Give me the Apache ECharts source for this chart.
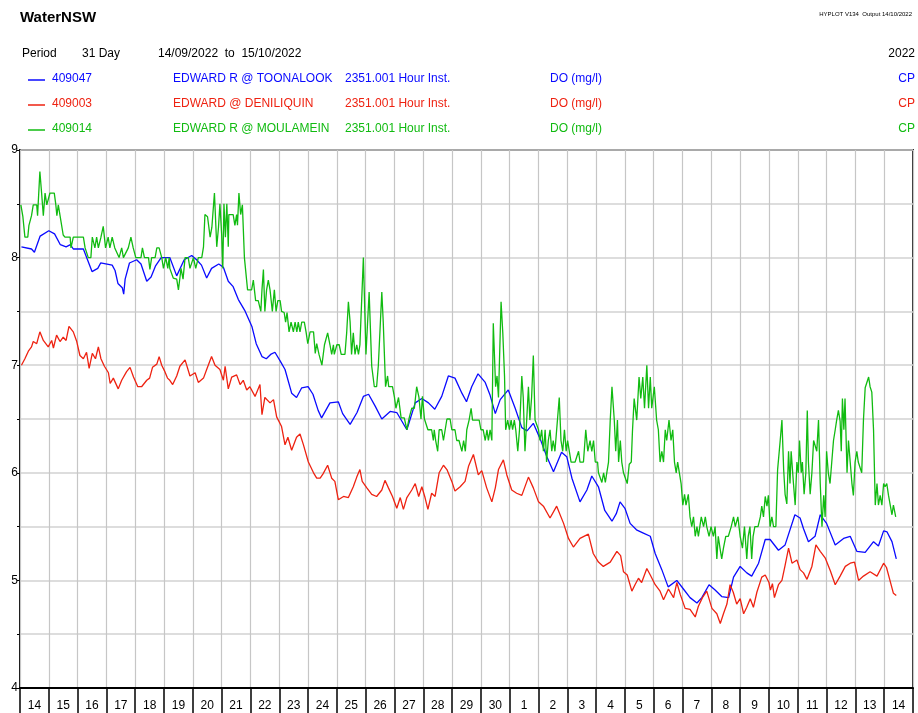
<!DOCTYPE html>
<html>
<head>
<meta charset="utf-8">
<title>WaterNSW DO</title>
<script src="https://cdn.jsdelivr.net/npm/echarts@6/dist/echarts.min.js"></script>
<style>
  html, body { margin: 0; padding: 0; background: #fff; }
  #chart { width: 918px; height: 713px; }
</style>
</head>
<body>
<div id="chart"></div>
<script>
// day labels along the bottom (14 Sep .. 14 Oct)
const dayLabels = ['14','15','16','17','18','19','20','21','22','23','24','25','26','27','28','29','30',
  '1','2','3','4','5','6','7','8','9','10','11','12','13','14'];

const yTicks = ['4', '5', '6', '7', '8', '9'];

// [days since 14/09/2022 00:00, DO mg/l]
const toonalook = [[0.05,8.10],[0.4,8.08],[0.5,8.05],[0.7,8.2],[1.0,8.25],[1.2,8.22],[1.4,8.12],[1.6,8.10],[1.75,8.12],[1.85,8.08],[2.2,8.08],[2.5,7.87],[2.7,7.9],[2.8,7.95],[3.2,7.93],[3.3,7.88],[3.4,7.76],[3.55,7.72],[3.6,7.66],[3.65,7.8],[3.8,7.95],[4.05,7.98],[4.2,7.94],[4.4,7.78],[4.55,7.82],[4.7,7.92],[4.9,8.0],[5.2,8.0],[5.44,7.83],[5.7,7.98],[5.96,8.02],[6.13,7.98],[6.3,7.93],[6.48,7.81],[6.65,7.9],[6.9,7.94],[7.06,7.91],[7.23,7.78],[7.4,7.73],[7.58,7.61],[7.8,7.51],[8.05,7.36],[8.2,7.2],[8.4,7.08],[8.55,7.06],[8.7,7.1],[8.85,7.12],[9.03,7.04],[9.2,6.96],[9.43,6.74],[9.6,6.7],[9.78,6.79],[10.0,6.8],[10.17,6.73],[10.35,6.58],[10.47,6.51],[10.76,6.65],[11.05,6.66],[11.2,6.55],[11.46,6.45],[11.7,6.56],[11.92,6.71],[12.1,6.73],[12.33,6.62],[12.56,6.5],[12.85,6.57],[13.08,6.56],[13.43,6.4],[13.72,6.65],[13.95,6.69],[14.18,6.65],[14.4,6.59],[14.64,6.71],[14.87,6.9],[15.1,6.88],[15.34,6.74],[15.5,6.66],[15.68,6.8],[15.9,6.92],[16.15,6.84],[16.32,6.72],[16.5,6.55],[16.67,6.68],[16.95,6.77],[17.19,6.6],[17.42,6.42],[17.6,6.39],[17.82,6.46],[18.05,6.32],[18.29,6.15],[18.52,6.01],[18.8,6.19],[18.98,6.15],[19.16,5.95],[19.44,5.73],[19.68,5.84],[19.85,5.97],[20.08,5.87],[20.3,5.65],[20.55,5.55],[20.7,5.62],[20.83,5.73],[21.0,5.67],[21.18,5.53],[21.4,5.47],[21.64,5.44],[21.88,5.41],[22.05,5.25],[22.28,5.1],[22.5,4.94],[22.8,5.0],[23.03,4.92],[23.26,4.84],[23.5,4.79],[23.67,4.84],[23.92,4.96],[24.13,4.91],[24.36,4.85],[24.6,4.84],[24.77,5.03],[25.0,5.13],[25.23,5.07],[25.4,5.04],[25.64,5.16],[25.87,5.38],[26.04,5.38],[26.33,5.28],[26.56,5.33],[26.9,5.61],[27.08,5.58],[27.2,5.48],[27.37,5.36],[27.6,5.41],[27.78,5.61],[28.0,5.53],[28.3,5.33],[28.59,5.39],[28.82,5.41],[29.05,5.27],[29.34,5.26],[29.63,5.36],[29.8,5.32],[29.98,5.46],[30.1,5.45],[30.27,5.36],[30.42,5.2]];

const deniliquin = [[0.05,7.0],[0.17,7.06],[0.29,7.13],[0.4,7.17],[0.46,7.22],[0.58,7.2],[0.69,7.31],[0.81,7.23],[0.98,7.17],[1.1,7.23],[1.16,7.16],[1.27,7.28],[1.39,7.22],[1.5,7.26],[1.6,7.23],[1.7,7.36],[1.85,7.31],[1.97,7.22],[2.08,7.09],[2.2,7.06],[2.31,7.12],[2.4,6.97],[2.51,7.11],[2.62,7.06],[2.72,7.17],[2.81,7.06],[2.93,6.99],[3.07,6.93],[3.13,6.83],[3.24,6.88],[3.41,6.78],[3.53,6.86],[3.7,6.94],[3.82,6.98],[3.94,6.89],[4.09,6.8],[4.22,6.8],[4.4,6.86],[4.5,6.88],[4.6,6.98],[4.75,7.01],[4.83,7.08],[4.92,7.0],[5.03,6.94],[5.12,6.88],[5.2,6.86],[5.3,6.82],[5.44,6.9],[5.55,6.99],[5.73,7.05],[5.9,6.9],[6.08,6.93],[6.19,6.84],[6.37,6.88],[6.48,6.96],[6.65,7.08],[6.77,7.0],[6.94,6.96],[7.06,6.86],[7.12,6.99],[7.23,6.78],[7.35,6.89],[7.52,6.91],[7.64,6.82],[7.75,6.86],[7.87,6.77],[7.98,6.8],[8.16,6.71],[8.33,6.82],[8.4,6.54],[8.5,6.7],[8.68,6.65],[8.8,6.68],[8.91,6.52],[9.08,6.43],[9.2,6.26],[9.3,6.33],[9.43,6.21],[9.6,6.33],[9.72,6.36],[9.84,6.26],[10.01,6.1],[10.19,6.0],[10.3,5.95],[10.42,5.95],[10.52,5.99],[10.68,6.07],[10.82,5.95],[10.93,5.92],[11.05,5.75],[11.23,5.78],[11.4,5.77],[11.57,5.87],[11.69,5.96],[11.8,6.03],[11.88,5.92],[12.04,5.86],[12.21,5.8],[12.38,5.78],[12.56,5.84],[12.67,5.93],[12.79,5.86],[12.93,5.78],[13.08,5.67],[13.2,5.77],[13.31,5.66],[13.43,5.77],[13.6,5.84],[13.72,5.9],[13.84,5.78],[13.95,5.87],[14.06,5.77],[14.16,5.66],[14.29,5.81],[14.41,5.78],[14.55,6.0],[14.7,6.07],[14.82,6.03],[14.99,5.92],[15.1,5.83],[15.28,5.87],[15.45,5.92],[15.57,6.06],[15.74,6.17],[15.91,5.98],[16.03,6.02],[16.2,5.86],[16.38,5.73],[16.5,5.86],[16.61,6.03],[16.78,6.12],[16.9,5.98],[17.07,5.84],[17.24,5.81],[17.42,5.79],[17.65,5.96],[17.82,5.86],[18.0,5.73],[18.17,5.69],[18.4,5.58],[18.63,5.69],[18.87,5.53],[19.04,5.39],[19.21,5.31],[19.44,5.39],[19.73,5.43],[19.9,5.25],[20.08,5.17],[20.25,5.13],[20.49,5.17],[20.72,5.27],[20.85,5.23],[20.95,5.08],[21.08,5.05],[21.24,4.9],[21.35,4.96],[21.47,5.02],[21.58,4.98],[21.76,5.11],[21.88,5.05],[22.05,4.96],[22.22,4.9],[22.34,4.82],[22.51,4.92],[22.69,4.84],[22.8,4.98],[22.92,4.87],[23.09,4.74],[23.26,4.73],[23.44,4.66],[23.55,4.76],[23.69,4.84],[23.84,4.9],[24.02,4.74],[24.19,4.69],[24.31,4.6],[24.42,4.69],[24.54,4.78],[24.65,4.96],[24.76,4.89],[24.88,4.78],[25.0,4.83],[25.12,4.69],[25.23,4.75],[25.35,4.83],[25.46,4.75],[25.58,4.89],[25.75,5.03],[25.87,5.05],[26.0,4.98],[26.05,4.91],[26.12,4.97],[26.19,4.84],[26.33,4.96],[26.45,5.0],[26.56,5.14],[26.68,5.3],[26.8,5.16],[26.97,5.19],[27.08,5.1],[27.2,5.07],[27.32,5.01],[27.49,5.13],[27.63,5.33],[27.78,5.27],[27.95,5.21],[28.13,5.09],[28.3,4.96],[28.47,5.04],[28.65,5.13],[28.82,5.16],[28.97,5.17],[29.11,5.0],[29.28,5.04],[29.51,5.08],[29.75,5.04],[29.98,5.16],[30.08,5.12],[30.2,5.0],[30.32,4.88],[30.42,4.86]];

const moulamein = [[0.03,8.49],[0.1,8.38],[0.17,8.19],[0.27,8.19],[0.31,8.3],[0.4,8.39],[0.46,8.49],[0.58,8.49],[0.61,8.39],[0.66,8.39],[0.69,8.8],[0.75,8.6],[0.81,8.39],[0.87,8.6],[0.93,8.49],[0.99,8.49],[1.04,8.6],[1.19,8.6],[1.24,8.5],[1.28,8.39],[1.33,8.49],[1.39,8.39],[1.5,8.21],[1.56,8.19],[1.74,8.19],[1.77,8.09],[1.85,8.19],[2.2,8.19],[2.26,8.09],[2.37,8.0],[2.46,8.0],[2.51,8.19],[2.6,8.09],[2.66,8.19],[2.72,8.09],[2.81,8.19],[2.89,8.29],[2.97,8.09],[3.06,8.19],[3.12,8.09],[3.2,8.19],[3.29,8.09],[3.44,8.0],[3.53,8.09],[3.59,8.0],[3.76,8.09],[3.85,8.19],[3.93,8.09],[4.02,8.0],[4.2,8.0],[4.25,8.09],[4.32,8.0],[4.46,8.0],[4.51,7.89],[4.57,8.0],[4.69,8.0],[4.75,8.09],[4.83,8.09],[4.92,8.0],[4.98,7.9],[5.06,8.0],[5.13,7.9],[5.18,8.0],[5.2,7.9],[5.32,7.81],[5.44,7.8],[5.5,7.7],[5.55,7.81],[5.59,7.9],[5.66,7.8],[5.73,8.0],[5.84,8.0],[5.9,7.9],[6.02,8.0],[6.1,7.9],[6.19,8.0],[6.31,8.0],[6.37,8.1],[6.42,8.4],[6.51,8.38],[6.6,8.19],[6.66,8.28],[6.75,8.6],[6.83,8.1],[6.89,8.28],[6.94,8.5],[7.0,8.22],[7.04,7.9],[7.08,8.5],[7.13,8.19],[7.18,8.5],[7.23,8.1],[7.25,8.4],[7.4,8.4],[7.46,8.3],[7.52,8.4],[7.55,8.3],[7.6,8.6],[7.66,8.4],[7.72,8.49],[7.79,8.0],[7.9,7.7],[8.04,7.7],[8.1,7.79],[8.18,7.6],[8.27,7.6],[8.36,7.5],[8.4,7.7],[8.45,7.89],[8.5,7.5],[8.56,7.7],[8.62,7.79],[8.68,7.7],[8.76,7.5],[8.83,7.7],[8.89,7.5],[8.95,7.6],[9.03,7.6],[9.08,7.5],[9.17,7.49],[9.22,7.4],[9.27,7.49],[9.34,7.31],[9.41,7.4],[9.49,7.31],[9.55,7.4],[9.61,7.31],[9.66,7.4],[9.72,7.31],[9.78,7.4],[9.87,7.4],[9.93,7.31],[9.99,7.2],[10.07,7.31],[10.19,7.31],[10.25,7.11],[10.3,7.2],[10.38,7.1],[10.42,7.1],[10.48,7.0],[10.57,7.19],[10.68,7.3],[10.76,7.19],[10.82,7.1],[10.88,7.19],[10.91,7.1],[11.0,7.19],[11.08,7.19],[11.15,7.1],[11.28,7.1],[11.34,7.3],[11.4,7.59],[11.46,7.4],[11.51,7.1],[11.57,7.3],[11.63,7.1],[11.69,7.19],[11.75,7.1],[11.8,7.19],[11.86,7.19],[11.92,8.0],[11.96,8.0],[12.01,7.1],[12.12,7.68],[12.21,6.99],[12.3,6.8],[12.38,6.8],[12.44,7.0],[12.56,7.68],[12.61,7.4],[12.69,6.8],[12.76,6.9],[12.8,6.8],[12.93,6.8],[13.0,6.7],[13.05,6.6],[13.14,6.7],[13.23,6.51],[13.34,6.51],[13.43,6.4],[13.51,6.51],[13.6,6.6],[13.69,6.6],[13.77,6.8],[13.85,6.7],[13.92,6.5],[13.97,6.71],[14.04,6.5],[14.16,6.4],[14.29,6.4],[14.35,6.3],[14.38,6.4],[14.43,6.3],[14.5,6.2],[14.55,6.4],[14.64,6.4],[14.7,6.3],[14.82,6.5],[14.93,6.5],[14.99,6.4],[15.1,6.4],[15.16,6.3],[15.24,6.3],[15.34,6.2],[15.4,6.3],[15.46,6.2],[15.51,6.4],[15.59,6.49],[15.66,6.6],[15.71,6.49],[15.86,6.49],[15.94,6.49],[16.0,6.4],[16.08,6.4],[16.15,6.3],[16.21,6.4],[16.26,6.3],[16.32,6.4],[16.38,6.3],[16.43,7.39],[16.51,6.8],[16.56,6.9],[16.61,6.7],[16.7,7.59],[16.76,7.3],[16.82,6.9],[16.86,6.4],[16.93,6.49],[16.99,6.4],[17.05,6.49],[17.1,6.4],[17.16,6.49],[17.21,6.4],[17.28,6.2],[17.34,6.4],[17.42,6.9],[17.47,6.7],[17.53,6.2],[17.59,6.49],[17.65,6.8],[17.7,6.49],[17.76,6.7],[17.82,7.09],[17.88,6.49],[17.94,6.49],[18.0,6.4],[18.05,6.3],[18.11,6.4],[18.17,6.2],[18.23,6.4],[18.28,6.1],[18.34,6.3],[18.4,6.4],[18.46,6.2],[18.51,6.3],[18.57,6.2],[18.63,6.2],[18.72,6.7],[18.78,6.3],[18.84,6.2],[18.9,6.4],[18.96,6.2],[19.01,6.3],[19.07,6.2],[19.13,6.1],[19.27,6.1],[19.39,6.2],[19.44,6.1],[19.56,6.1],[19.64,6.4],[19.71,6.2],[19.79,6.3],[19.85,6.2],[19.91,6.3],[19.97,6.1],[20.05,6.1],[20.08,6.0],[20.2,5.91],[20.26,6.0],[20.32,5.91],[20.37,6.0],[20.43,6.1],[20.49,6.49],[20.55,6.8],[20.63,6.49],[20.68,6.2],[20.74,6.49],[20.78,6.1],[20.84,6.3],[20.89,6.1],[20.95,6.0],[21.01,6.0],[21.08,5.9],[21.15,6.08],[21.22,6.1],[21.26,6.38],[21.32,6.69],[21.41,6.49],[21.45,6.49],[21.49,6.89],[21.55,6.69],[21.62,6.89],[21.68,6.6],[21.76,7.0],[21.82,6.6],[21.88,6.89],[21.93,6.6],[22.02,6.8],[22.1,6.49],[22.16,6.4],[22.22,6.1],[22.28,6.2],[22.34,6.1],[22.4,6.4],[22.45,6.3],[22.53,6.49],[22.6,6.3],[22.66,6.4],[22.72,6.1],[22.78,6.0],[22.83,6.1],[22.89,6.0],[22.95,5.9],[23.01,5.7],[23.07,5.8],[23.12,5.7],[23.2,5.8],[23.26,5.59],[23.32,5.5],[23.38,5.59],[23.44,5.41],[23.5,5.5],[23.55,5.41],[23.65,5.59],[23.73,5.5],[23.79,5.59],[23.84,5.5],[23.92,5.41],[23.99,5.5],[24.07,5.41],[24.13,5.5],[24.19,5.2],[24.24,5.41],[24.3,5.3],[24.36,5.2],[24.42,5.3],[24.5,5.41],[24.59,5.41],[24.69,5.5],[24.77,5.59],[24.83,5.5],[24.92,5.59],[25.0,5.41],[25.08,5.3],[25.15,5.5],[25.23,5.2],[25.28,5.41],[25.34,5.5],[25.4,5.2],[25.45,5.41],[25.51,5.5],[25.62,5.5],[25.7,5.59],[25.75,5.69],[25.81,5.59],[25.87,5.78],[25.93,5.69],[25.98,5.79],[26.04,5.5],[26.1,5.59],[26.16,5.5],[26.24,5.5],[26.3,6.03],[26.39,6.3],[26.45,6.49],[26.51,6.03],[26.56,5.8],[26.62,5.71],[26.68,6.2],[26.73,5.9],[26.77,6.2],[26.85,5.9],[26.91,5.7],[26.97,6.1],[27.02,6.0],[27.06,6.3],[27.12,6.0],[27.16,6.1],[27.22,5.8],[27.28,6.0],[27.33,6.58],[27.37,6.1],[27.43,5.8],[27.49,6.0],[27.55,6.3],[27.61,6.3],[27.66,6.2],[27.72,6.49],[27.78,5.9],[27.84,5.5],[27.9,5.79],[27.95,5.59],[28.0,6.2],[28.06,6.0],[28.12,5.9],[28.18,6.1],[28.24,6.3],[28.3,6.4],[28.35,6.49],[28.41,6.58],[28.47,6.48],[28.51,6.2],[28.55,6.69],[28.6,6.4],[28.64,6.69],[28.71,6.0],[28.76,6.3],[28.82,6.1],[28.88,5.9],[28.93,5.79],[28.99,6.1],[29.05,6.2],[29.1,6.1],[29.16,6.1],[29.22,6.0],[29.28,6.49],[29.34,6.79],[29.39,6.8],[29.46,6.89],[29.51,6.8],[29.57,6.75],[29.63,6.4],[29.69,5.7],[29.75,5.9],[29.8,5.7],[29.86,5.79],[29.92,5.7],[29.98,5.9],[30.03,5.87],[30.09,5.9],[30.15,5.79],[30.21,5.79],[30.27,5.61],[30.32,5.7],[30.4,5.59]];

const BLUE = '#0a0aff';
const RED = '#ee2211';
const GREEN = '#11bb11';
const FONT = 'Liberation Sans, Arial, sans-serif';

const chart = echarts.init(document.getElementById('chart'), null, { renderer: 'canvas' });

const txt = (left, top, text, color, size, extra) => Object.assign({
  type: 'text', left, top,
  style: { text, fill: color, font: `${size}px ${FONT}` }
}, extra || {});

const legendRow = (top, color, code, name) => [
  { type: 'line', shape: { x1: 28, y1: top + 7, x2: 45, y2: top + 7 }, style: { stroke: color, lineWidth: 1.5 } },
  txt(52, top, code, color, 12),
  txt(173, top, name, color, 12),
  txt(345, top, '2351.001 Hour Inst.', color, 12),
  txt(550, top, 'DO (mg/l)', color, 12),
  txt(null, top, 'CP', color, 12, { right: 3 })
];

const option = {
  animation: false,
  backgroundColor: '#fff',
  textStyle: { fontFamily: FONT },
  graphic: [
    { type: 'text', left: 20, top: 10, style: { text: 'WaterNSW', fill: '#000', font: `bold 15px ${FONT}` } },
    { type: 'text', right: 6, top: 11, style: { text: 'HYPLOT V134  Output 14/10/2022', fill: '#000', font: `6px ${FONT}` } },
    txt(22, 48, 'Period', '#000', 12),
    txt(82, 48, '31 Day', '#000', 12),
    txt(158, 48, '14/09/2022  to  15/10/2022', '#000', 12),
    txt(null, 48, '2022', '#000', 12, { right: 3 }),
    ...legendRow(73, BLUE, '409047', 'EDWARD R @ TOONALOOK'),
    ...legendRow(98, RED, '409003', 'EDWARD @ DENILIQUIN'),
    ...legendRow(123, GREEN, '409014', 'EDWARD R @ MOULAMEIN')
  ],
  grid: {
    left: 20, right: 5, top: 150, bottom: 25,
    show: true, borderColor: '#333', borderWidth: 2, backgroundColor: 'transparent'
  },
  xAxis: [
    {
      type: 'category',
      data: dayLabels,
      boundaryGap: true,
      position: 'bottom',
      axisLine: { lineStyle: { color: '#000', width: 2 } },
      axisTick: { show: true, interval: 0, length: 25, lineStyle: { color: '#000', width: 1.5 } },
      axisLabel: { interval: 0, color: '#000', fontSize: 12, margin: 12, fontFamily: FONT },
      splitLine: { show: true, interval: 0, lineStyle: { color: '#c6c6c6', width: 1.2 } },
      z: 3
    },
    { type: 'value', min: 0, max: 31, show: false }
  ],
  yAxis: {
    type: 'value',
    min: 4, max: 9, interval: 0.5,
    axisLine: { show: true, lineStyle: { color: '#000', width: 1.5 } },
    axisTick: { show: true, length: 3, lineStyle: { color: '#000' } },
    axisLabel: {
      color: '#000', fontSize: 12, margin: 2, fontFamily: FONT,
      formatter: v => (yTicks.indexOf(String(v)) >= 0 ? String(v) : '')
    },
    splitLine: { show: true, lineStyle: { color: '#d2d2d2', width: 1.5 } }
  },
  series: [
    { name: '409047', type: 'line', xAxisIndex: 1, data: toonalook, showSymbol: false, lineStyle: { color: BLUE, width: 1.3 }, z: 4 },
    { name: '409003', type: 'line', xAxisIndex: 1, data: deniliquin, showSymbol: false, lineStyle: { color: RED, width: 1.3 }, z: 4 },
    { name: '409014', type: 'line', xAxisIndex: 1, data: moulamein, showSymbol: false, lineStyle: { color: GREEN, width: 1.3 }, z: 4 }
  ]
};

chart.setOption(option);
</script>
</body>
</html>
